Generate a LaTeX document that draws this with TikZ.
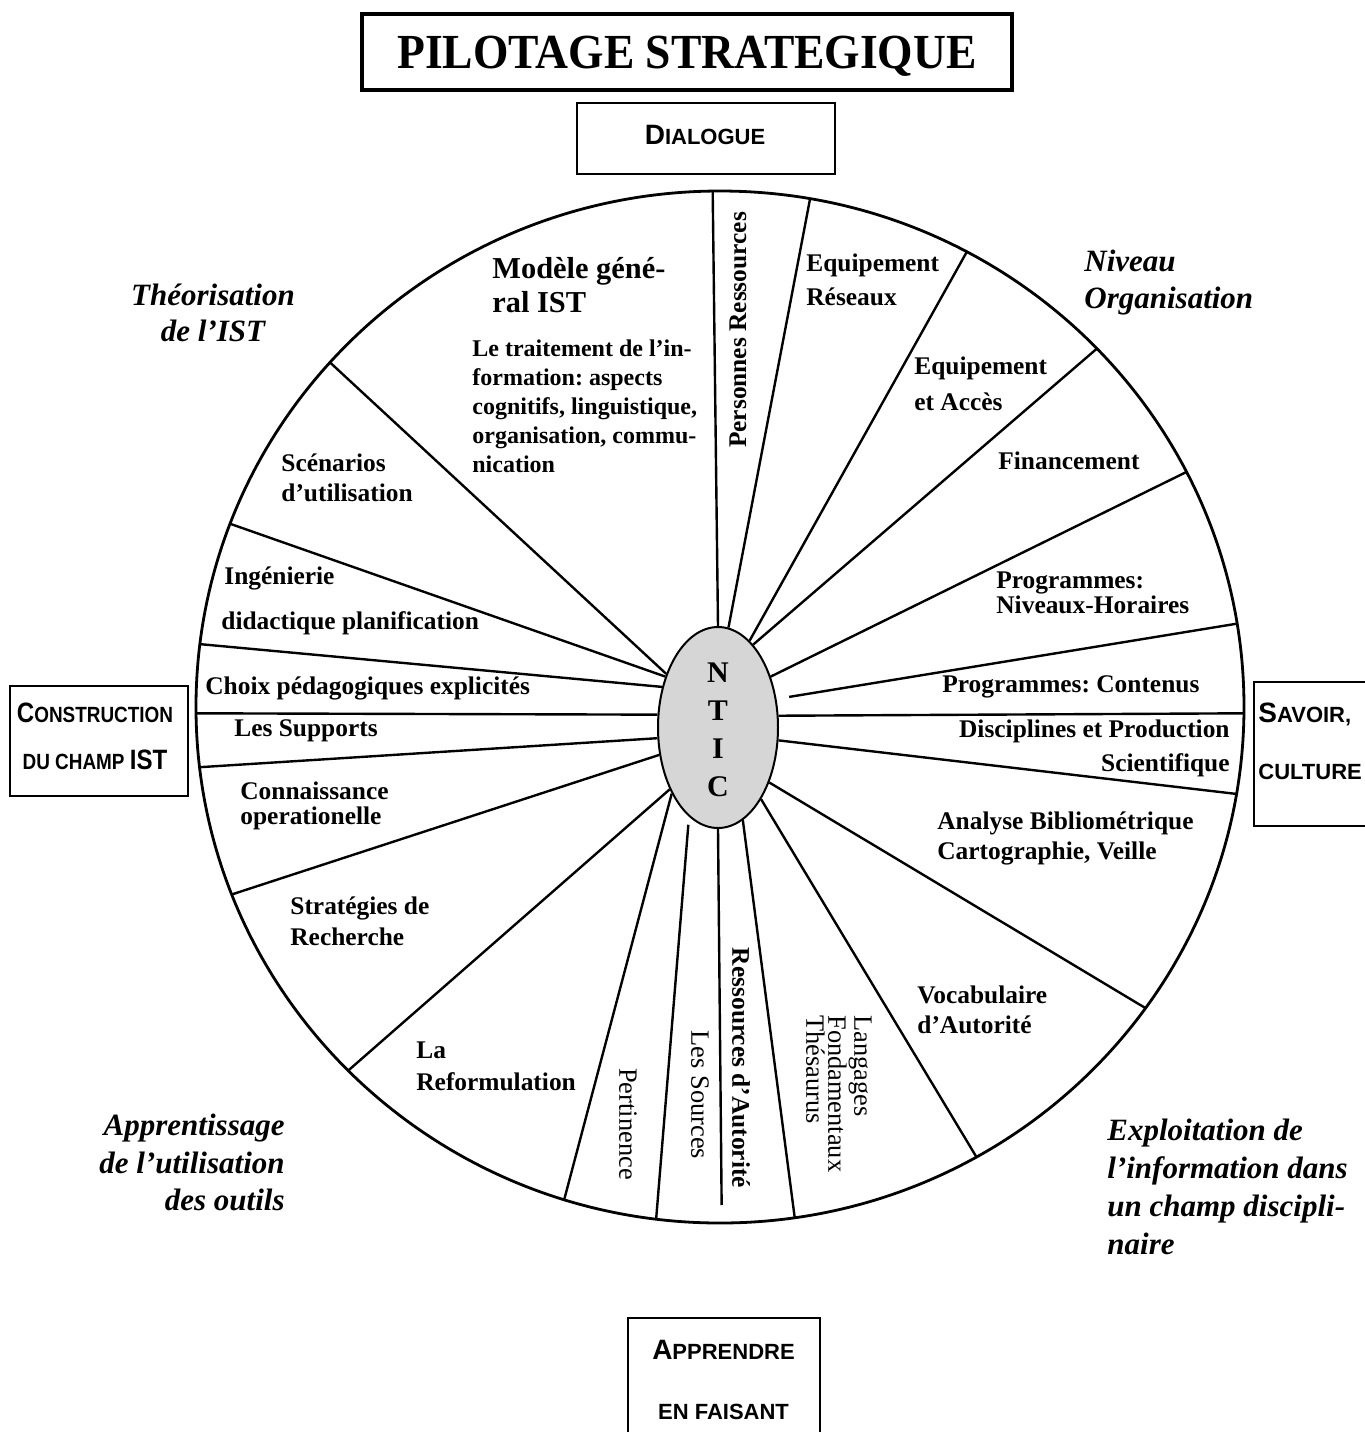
\documentclass[tikz,border=0pt]{standalone}
\usepackage{fontspec}
\setmainfont{Liberation Serif}
\newfontfamily\hvfont{Liberation Sans}
\usetikzlibrary{shapes.geometric,calc}
\newcommand\lblf[1]{\bfseries\fontsize{12.7}{#1}\selectfont}
\newcommand\bgl[1]{{\fontsize{14}{14}\selectfont #1}}
\newcommand\sml[1]{{\fontsize{11}{11}\selectfont #1}}
\frenchspacing
\begin{document}
\begin{tikzpicture}[x=0.5pt,y=-0.5pt,
  lab/.style={inner sep=0pt, anchor=west, align=left},
  rlab/.style={inner sep=0pt},
  spoke/.style={line width=1.2pt},
  frame/.style={draw, line width=1.2pt, inner sep=0pt},
  boxtxt/.style={inner sep=0pt, font=\hvfont\bfseries\fontsize{11}{#1}\selectfont},
  ital/.style={inner sep=0pt, font=\bfseries\itshape\fontsize{15.5}{#1}\selectfont}]
\useasboundingbox (0,0) rectangle (1365,1432);
\fill[white] (0,0) rectangle (1365,1432);
\clip (0,0) rectangle (1365,1432);

% wheel
\coordinate (O) at (720,707);
\draw[line width=1.4pt] (O) ellipse [x radius=524, y radius=516];
\node[ellipse, draw, line width=1pt, fill=black!16, minimum width=60pt, minimum height=100.5pt, inner sep=0pt] (ntic) at (718,727.5) {};
\node[inner sep=0pt, align=center, font=\bfseries\fontsize{15}{19}\selectfont] (nticlbl) at ([yshift=-1.2pt]ntic.center) {N\\T\\I\\C};

\foreach \a/\b in {90.6/-90.8, 84.4/-80.1, 70.5/-61.9, 67.5/-44.0, 44.7/-27.1,
  11.8/0.7, 348.4/9.7, 313.7/35.7, 301.9/60.7, 285.4/81.8,
  235.4/107.3, 232.1/135.2, 205.7/158.7, 190.1/173.3, 168.0/179.3,
  144.6/187.0, 136.9/200.8, 134.7/221.9}
  \draw[spoke] (ntic.\a) -- ($(O)+(\b:524 and 516)$);
\draw[spoke, shorten <=6.4pt] (ntic.26.6) -- ($(O)+(-9.3:524 and 516)$);
\draw[spoke, shorten <=4pt] (ntic.252.6) -- ($(O)+(97.0:524 and 516)$);
\draw[spoke, shorten >=9pt] (ntic.270.6) -- ($(O)+(89.8:524 and 516)$);

% sector labels
\node[lab, font=\bfseries\fontsize{15.2}{17}\selectfont] (modele) at (492,285) {Modèle géné-\\ral IST};
\node[lab, font=\bfseries\fontsize{12}{14.5}\selectfont] (traitement) at (472,406.5) {Le traitement de l’in-\\formation: aspects\\cognitifs, linguistique,\\organisation, commu-\\nication};
\node[rlab, rotate=90, font=\lblf{15}] (personnes) at (738,330) {Personnes Ressources};
\node[lab, font=\lblf{17}] (eqres) at (806,280) {Equipement\\Réseaux};
\node[lab, font=\lblf{18}] (eqacc) at (914,384) {Equipement\\et Accès};
\node[lab, font=\lblf{15}] (fin) at (998,461) {Financement};
\node[lab, font=\lblf{11.5}] (progniv) at (996,592.5) {Programmes:\\Niveaux-Horaires};
\node[lab, font=\lblf{15}] (progcont) at (942,687) {Programmes: Contenus};
\node[rlab, anchor=east, align=right, font=\lblf{17}] (disc) at (1230,748) {Disciplines et Production\\Scientifique};
\node[lab, font=\lblf{15}] (analyse) at (937,838) {Analyse Bibliométrique\\Cartographie, Veille};
\node[lab, font=\lblf{15}] (vocab) at (917,1010) {Vocabulaire\\d’Autorité};
\node[rlab, rotate=-90, anchor=north west, align=left, font=\fontsize{13.2}{11}\selectfont] (lang) at (872,1015) {Langages\\Fondamentaux\\Thésaurus};
\node[rlab, rotate=-90, font=\lblf{15}] (ressaut) at (741,1068) {Ressources d’Autorité};
\node[rlab, rotate=-90, font=\fontsize{13.2}{15}\selectfont] (sources) at (700,1095) {Les Sources};
\node[rlab, rotate=-90, font=\fontsize{13.2}{15}\selectfont] (pert) at (628,1124) {Pertinence};
\node[lab, font=\lblf{16}] (reform) at (416,1066) {La\\Reformulation};
\node[lab, font=\lblf{15.5}] (strat) at (290,921.5) {Stratégies de\\Recherche};
\node[lab, font=\lblf{12.5}] (conn) at (240,805.5) {Connaissance\\operationelle};
\node[lab, font=\lblf{15}] (supports) at (234,731) {Les Supports};
\node[lab, font=\lblf{15}] (choix) at (205,688) {Choix pédagogiques explicités};
\node[lab, font=\lblf{22.5}] (ing) at (221,600.5) {\hspace{1.5pt}Ingénierie\\didactique planification};
\node[lab, font=\lblf{15}] (scen) at (281,478) {Scénarios\\d’utilisation};

% outer italic labels
\node[ital=18, align=center] (theo) at (213,313) {Théorisation\\de l’IST};
\node[ital=18.5, anchor=west, align=left] (niveau) at (1084,283) {Niveau\\Organisation};
\node[ital=18.75, anchor=east, align=right] (apprent) at (285,1162.5) {Apprentissage\\de l’utilisation\\des outils};
\node[ital=19, anchor=west, align=left] (expl) at (1107,1187) {Exploitation de\\l’information dans\\un champ discipli-\\naire};

% boxes
\node[draw, line width=1.6pt, minimum width=325pt, minimum height=38pt, inner sep=0pt, text depth=0pt] (titre) at (687,52) {\scalebox{0.93}[1]{\bfseries\fontsize{24.5}{24.5}\selectfont PILOTAGE STRATEGIQUE}};

\node[frame, minimum width=129pt, minimum height=35.5pt] (dial) at (706,138.5) {};
\node[boxtxt=14] (dialt) at (705,135) {\bgl{D}\sml{IALOGUE}};

\node[frame, minimum width=89pt, minimum height=55pt] (constr) at (99,741) {};
\node[boxtxt=23.5, align=center] (constrt) at (95,736.5) {\scalebox{0.86}[1]{\bgl{C}\sml{ONSTRUCTION}}\\\scalebox{0.86}[1]{\sml{DU CHAMP }\bgl{IST}}};

\node[frame, minimum width=59pt, minimum height=72pt] (savoir) at (1313,754) {};
\node[boxtxt=28.5, align=left, anchor=west] (savoirt) at (1258,741.5) {\bgl{S}\sml{AVOIR,}\\\sml{CULTURE}};

\node[frame, minimum width=96pt, minimum height=63.5pt] (apprendre) at (724,1381.5) {};
\node[boxtxt=30, align=center] (apprendret) at (723.5,1380) {\bgl{A}\sml{PPRENDRE}\\\sml{EN FAISANT}};
\end{tikzpicture}
\end{document}
